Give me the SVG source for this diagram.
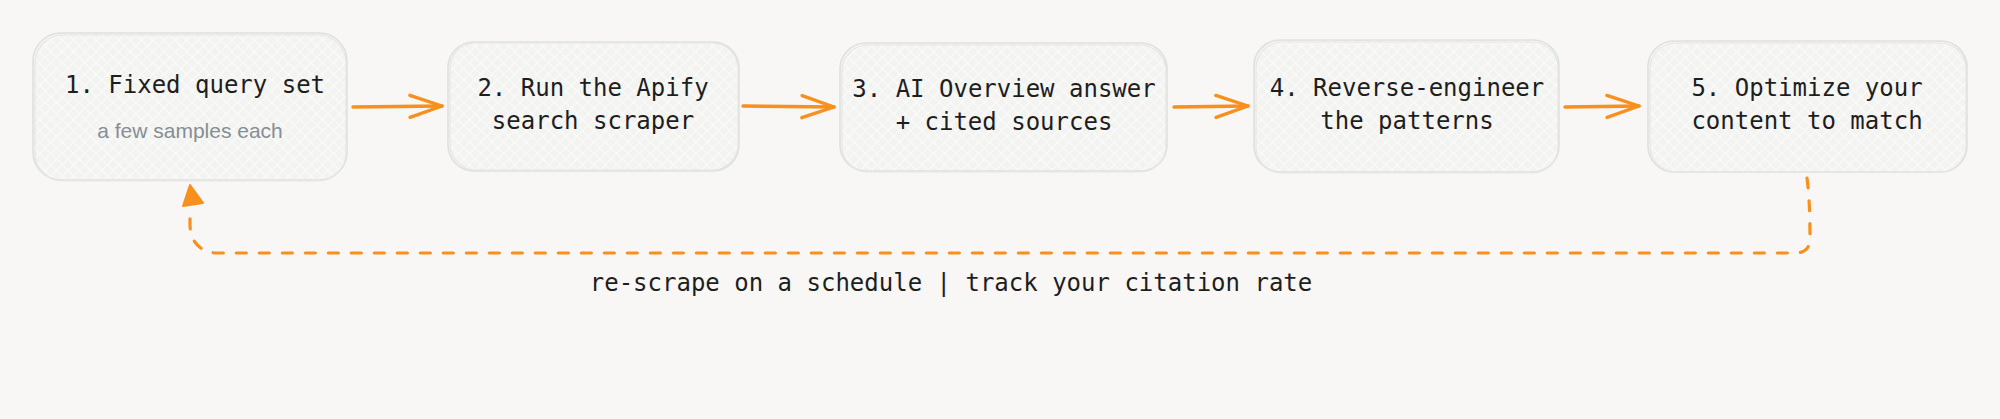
<svg xmlns="http://www.w3.org/2000/svg" width="2000" height="419" viewBox="0 0 2000 419">
  <defs>
    <pattern id="hatch" width="8" height="8" patternUnits="userSpaceOnUse" patternTransform="rotate(45)">
      <rect width="8" height="8" fill="#f3f3f1"/>
      <line x1="0" y1="0" x2="0" y2="8" stroke="#fbfbfa" stroke-width="2.2"/>
      <line x1="0" y1="0" x2="8" y2="0" stroke="#fbfbfa" stroke-width="2.2"/>
    </pattern>
    <marker id="open" viewBox="0 0 40 30" refX="38" refY="15" markerWidth="40" markerHeight="30" markerUnits="userSpaceOnUse" orient="auto">
      <path d="M6 4 L38 15 L6 26" fill="none" stroke="#f98f1c" stroke-width="3.4" stroke-linecap="round" stroke-linejoin="round"/>
    </marker>
  </defs>
  <style>
    .box { fill: url(#hatch); stroke: #dfe1de; stroke-width: 1.6; }
    .box2 { fill: none; stroke: #e6e7e4; stroke-width: 1.2; }
    .t { font-family: "DejaVu Sans Mono", "Liberation Mono", monospace; font-size: 24px; fill: #1e1e1e; text-anchor: middle; }
    .sub { font-family: "Liberation Sans", Arial, sans-serif; font-size: 21px; fill: #868e96; text-anchor: middle; }
    .lbl { font-family: "DejaVu Sans Mono", "Liberation Mono", monospace; font-size: 24px; fill: #1e1e1e; text-anchor: middle; }
    .edge { fill: none; stroke: #f98f1c; stroke-width: 3.4; stroke-linecap: round; }
    .dash { fill: none; stroke: #f98f1c; stroke-width: 3.2; stroke-linecap: round; stroke-dasharray: 10 13; }
  </style>
  <rect width="2000" height="419" fill="#f8f7f5"/>

  <g id="node1">
    <rect class="box" x="33" y="33" width="314" height="147" rx="28"/>
    <rect class="box2" x="35" y="35" width="311" height="146" rx="28"/>
    <text class="t" x="195" y="93">1. Fixed query set</text>
    <text class="sub" x="190" y="138">a few samples each</text>
  </g>
  <g id="node2">
    <rect class="box" x="448" y="42" width="291" height="129" rx="26"/>
    <rect class="box2" x="450" y="43" width="288" height="127" rx="26"/>
    <text class="t" x="593" y="96">2. Run the Apify</text>
    <text class="t" x="593" y="129">search scraper</text>
  </g>
  <g id="node3">
    <rect class="box" x="840" y="43" width="327" height="128" rx="26"/>
    <rect class="box2" x="842" y="45" width="324" height="127" rx="26"/>
    <text class="t" x="1004" y="97">3. AI Overview answer</text>
    <text class="t" x="1004" y="130">+ cited sources</text>
  </g>
  <g id="node4">
    <rect class="box" x="1254" y="40" width="305" height="132" rx="26"/>
    <rect class="box2" x="1256" y="42" width="302" height="131" rx="26"/>
    <text class="t" x="1407" y="96">4. Reverse-engineer</text>
    <text class="t" x="1407" y="129">the patterns</text>
  </g>
  <g id="node5">
    <rect class="box" x="1648" y="41" width="319" height="131" rx="26"/>
    <rect class="box2" x="1650" y="43" width="316" height="129" rx="26"/>
    <text class="t" x="1807" y="96">5. Optimize your</text>
    <text class="t" x="1807" y="129">content to match</text>
  </g>

  <g id="connectors">
    <path class="edge" d="M353 107 L442 106" marker-end="url(#open)"/>
    <path class="edge" d="M743 106 L834 107" marker-end="url(#open)"/>
    <path class="edge" d="M1174 107 L1248 106" marker-end="url(#open)"/>
    <path class="edge" d="M1565 107 L1639 106" marker-end="url(#open)"/>
    <path class="dash" d="M1807 178 Q1810 200 1810 238 Q1810 253 1795 253 L215 253 Q191 250 190 225 L190 208"/>
    <path d="M190 185 L183 206 L203 203 Z" fill="#f98f1c" stroke="#f98f1c" stroke-width="2" stroke-linejoin="round"/>
    <text class="lbl" x="951" y="291">re-scrape on a schedule | track your citation rate</text>
  </g>
</svg>
